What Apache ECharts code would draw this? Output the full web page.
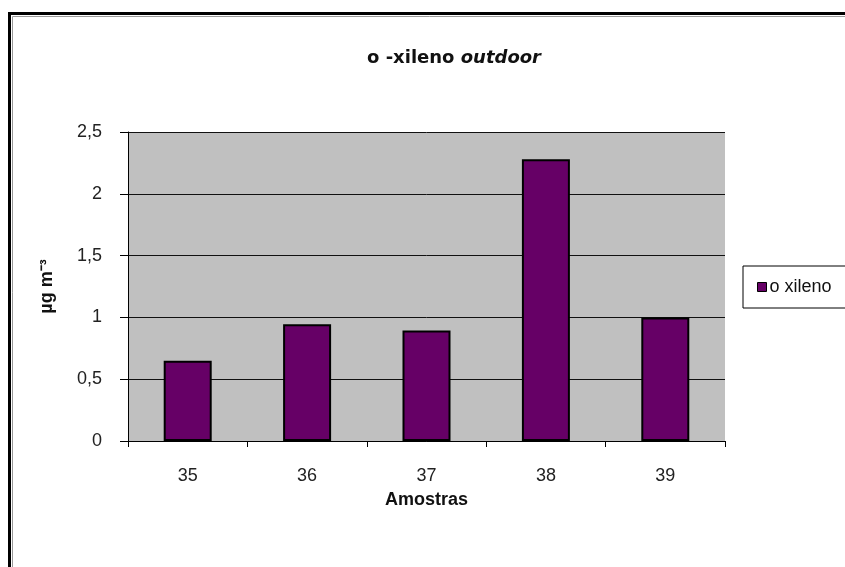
<!DOCTYPE html>
<html>
<head>
<meta charset="utf-8">
<script src="https://cdn.jsdelivr.net/npm/echarts@6/dist/echarts.min.js"></script>
<style>
  html, body { margin: 0; padding: 0; background: #fff; }
  #chart { width: 845px; height: 567px; }
</style>
</head>
<body>
<div id="chart"></div>
<script>
var samples = ['35', '36', '37', '38', '39'];
var oXileno = [0.65, 0.945, 0.895, 2.28, 1.0];
var seriesName = 'o xileno';

var chart = echarts.init(document.getElementById('chart'));

var option = {
    backgroundColor: '#fff',
    animation: false,
    textStyle: { fontFamily: 'Liberation Sans, Arial, sans-serif', color: '#000' },
    title: {
        text: '{n|o -xileno }{i|outdoor}',
        left: 449,
        textAlign: 'center',
        top: 44,
        textStyle: {
            rich: {
                n: { fontSize: 18, fontWeight: 'bold', color: '#111', fontFamily: 'DejaVu Sans' },
                i: { fontSize: 18, fontStyle: 'italic', color: '#111', fontFamily: 'DejaVu Sans' }
            }
        }
    },
    legend: {
        data: [seriesName],
        left: 743,
        top: 266,
        orient: 'vertical',
        icon: 'rect',
        itemWidth: 9,
        itemHeight: 9,
        itemGap: 4,
        padding: [12, 40, 12, 14],
        backgroundColor: '#fff',
        borderColor: '#000',
        borderWidth: 1,
        textStyle: { fontSize: 18, color: '#111', padding: [0, 0, 0, -2] },
        itemStyle: { borderColor: '#000', borderWidth: 1 }
    },
    grid: {
        left: 128,
        top: 132,
        right: 120,
        bottom: 126,
        show: true,
        backgroundColor: '#c0c0c0',
        borderWidth: 0
    },
    xAxis: {
        type: 'category',
        data: samples,
        name: 'Amostras',
        nameLocation: 'middle',
        nameGap: 50,
        nameTextStyle: { fontSize: 18, fontWeight: 'bold', color: '#111' },
        axisLine: { lineStyle: { color: '#000', width: 1 } },
        axisTick: { show: true, length: 6, lineStyle: { color: '#000' } },
        axisLabel: { fontSize: 18, color: '#222', margin: 26 }
    },
    yAxis: {
        type: 'value',
        min: 0,
        max: 2.5,
        interval: 0.5,
        name: 'µg m⁻³',
        nameLocation: 'middle',
        nameGap: 72,
        nameTextStyle: { fontSize: 18, fontWeight: 'bold', color: '#111' },
        axisLine: { show: true, lineStyle: { color: '#000', width: 1 } },
        axisTick: { show: true, length: 8, lineStyle: { color: '#000' } },
        axisLabel: {
            fontSize: 18,
            color: '#222',
            margin: 26,
            formatter: function (v) { return String(v).replace('.', ','); }
        },
        splitLine: { show: true, lineStyle: { color: '#111', width: 1 } }
    },
    series: [{
        name: seriesName,
        type: 'bar',
        data: oXileno,
        barWidth: 48,
        itemStyle: { color: '#660066', borderColor: '#000', borderWidth: 2 }
    }],
    graphic: [
        { type: 'rect', shape: { x: 9.5, y: 13.5, width: 900, height: 600 }, style: { fill: 'none', stroke: '#000', lineWidth: 3 } },
        { type: 'rect', shape: { x: 12.5, y: 16.5, width: 900, height: 600 }, style: { fill: 'none', stroke: '#999', lineWidth: 1 } }
    ]
};

chart.setOption(option);
</script>
</body>
</html>
